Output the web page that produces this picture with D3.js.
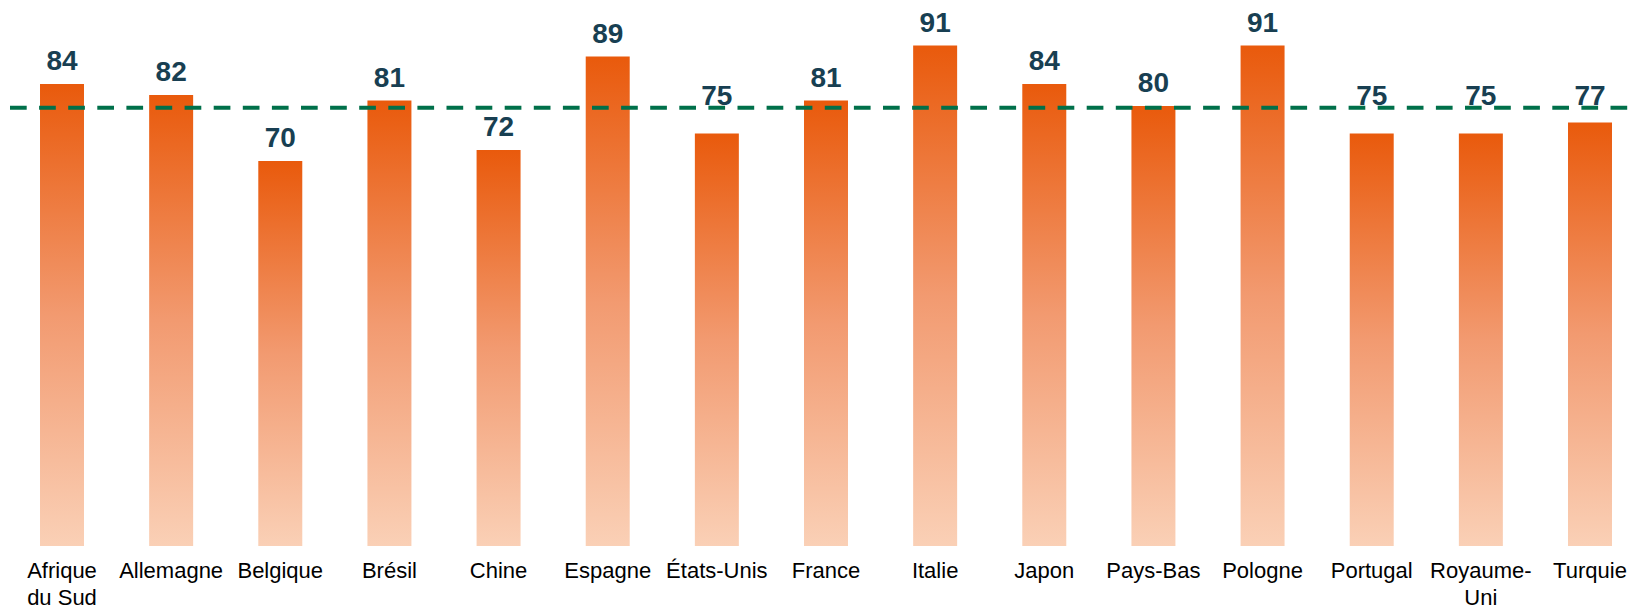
<!DOCTYPE html>
<html>
<head>
<meta charset="utf-8">
<script src="https://cdn.jsdelivr.net/npm/d3@7"></script>
<style>
  html, body { margin: 0; padding: 0; background: #ffffff; }
  svg { display: block; font-family: "Liberation Sans", Arial, sans-serif; }
</style>
</head>
<body>
<svg id="chart" width="1631" height="607"></svg>
<script>
const categories = ["Afrique du Sud", "Allemagne", "Belgique", "Brésil", "Chine", "Espagne", "États-Unis", "France", "Italie", "Japon", "Pays-Bas", "Pologne", "Portugal", "Royaume-Uni", "Turquie"];
const values = [84, 82, 70, 81, 72, 89, 75, 81, 91, 84, 80, 91, 75, 75, 77];
const referenceValue = 79.7;

const W = 1631, H = 607;
const svg = d3.select("#chart");

const x = d3.scalePoint().domain(categories).range([62, 1590]);
const barW = x.step() * 0.403;
const y = d3.scaleLinear().domain([0, 100]).range([546, -4]);

const defs = svg.append("defs");
const grad = defs.append("linearGradient")
  .attr("id", "barGrad").attr("x1", 0).attr("y1", 0).attr("x2", 0).attr("y2", 1);
grad.append("stop").attr("offset", "0%").attr("stop-color", "#e95a0c");
grad.append("stop").attr("offset", "50%").attr("stop-color", "#f29a70");
grad.append("stop").attr("offset", "100%").attr("stop-color", "#fad0b6");

const data = categories.map((c, i) => ({ c, v: values[i] }));

svg.append("g").selectAll("rect").data(data).join("rect")
  .attr("x", d => x(d.c) - barW / 2)
  .attr("y", d => y(d.v))
  .attr("width", barW)
  .attr("height", d => y(0) - y(d.v))
  .attr("fill", "url(#barGrad)");

// value labels
const lineY = y(referenceValue);
svg.append("g").selectAll("text").data(data).join("text")
  .attr("x", d => x(d.c))
  .attr("y", d => {
    let b = y(d.v) - 14;
    if (b > lineY - 3 && b - 20 < lineY + 3) b = lineY - 3;
    return b;
  })
  .attr("text-anchor", "middle")
  .attr("font-size", 28)
  .attr("font-weight", "bold")
  .attr("fill", "#183f52")
  .text(d => d.v);

// reference dashed line
svg.append("line")
  .attr("x1", 10).attr("x2", W)
  .attr("y1", lineY).attr("y2", lineY)
  .attr("stroke", "#00704a")
  .attr("stroke-width", 4)
  .attr("stroke-dasharray", "16.7,12.4");

// category labels with balanced two-line wrapping
const maxW = 106;
const xl = svg.append("g");
data.forEach(d => {
  const t = xl.append("text")
    .attr("x", x(d.c))
    .attr("y", 578)
    .attr("text-anchor", "middle")
    .attr("font-size", 22)
    .attr("fill", "#000000");
  const probe = t.append("tspan");
  const measure = s => { probe.text(s); return probe.node().getComputedTextLength(); };
  let lines = [d.c];
  if (measure(d.c) > maxW) {
    // candidate break points: after spaces and after hyphens
    let best = null;
    for (let i = 1; i < d.c.length; i++) {
      let a, b;
      if (d.c[i] === " ") { a = d.c.slice(0, i); b = d.c.slice(i + 1); }
      else if (d.c[i - 1] === "-") { a = d.c.slice(0, i); b = d.c.slice(i); }
      else continue;
      const m = Math.max(measure(a), measure(b));
      if (!best || m < best.m) best = { m, lines: [a, b] };
    }
    if (best) lines = best.lines;
  }
  probe.remove();
  lines.forEach((ln, k) => {
    t.append("tspan").attr("x", x(d.c)).attr("dy", k === 0 ? 0 : 27).text(ln);
  });
});
</script>
</body>
</html>
